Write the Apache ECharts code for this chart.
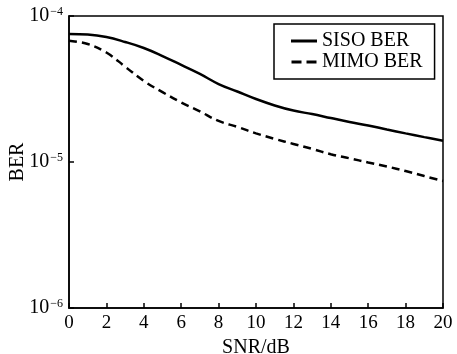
<!DOCTYPE html>
<html>
<head>
<meta charset="utf-8">
<script src="https://cdn.jsdelivr.net/npm/echarts@6/dist/echarts.min.js"></script>
<style>
  html, body { margin: 0; padding: 0; background: #fff; }
  #chart { width: 457px; height: 354px; }
</style>
</head>
<body>
<div id="chart"></div>
<script>
const snr = [0, 1, 2, 3, 4, 5, 6, 7, 8, 9, 10, 11, 12, 13, 14, 15, 16, 17, 18, 19, 20];
const sisoBer = [7.53e-5, 7.47e-5, 7.18e-5, 6.64e-5, 6.04e-5, 5.32e-5, 4.62e-5, 4.01e-5, 3.42e-5, 3.04e-5,
  2.70e-5, 2.44e-5, 2.25e-5, 2.13e-5, 2.00e-5, 1.88e-5, 1.78e-5, 1.67e-5, 1.57e-5, 1.48e-5, 1.40e-5];
const mimoBer = [6.78e-5, 6.43e-5, 5.62e-5, 4.50e-5, 3.59e-5, 3.01e-5, 2.56e-5, 2.22e-5, 1.91e-5, 1.74e-5,
  1.57e-5, 1.44e-5, 1.33e-5, 1.23e-5, 1.13e-5, 1.06e-5, 9.93e-6, 9.31e-6, 8.67e-6, 8.01e-6, 7.41e-6];
const seriesNames = ['SISO BER', 'MIMO BER'];

const font = 'Liberation Serif';
const chart = echarts.init(document.getElementById('chart'));

function pairs(ys) {
  return snr.map((x, i) => [x, ys[i]]);
}

// legend icons: a solid bar and a two-dash bar
const solidIcon = 'path://M0,0H26V3H0Z';
const dashIcon = 'path://M0,0H10V3H0Z M15,0H25V3H15Z';

chart.setOption({
  animation: false,
  backgroundColor: '#fff',
  textStyle: { fontFamily: font, color: '#000' },
  grid: {
    left: 69, right: 14, top: 16, bottom: 46,
    outerBoundsMode: 'none',
    containLabel: false,
    show: true, borderColor: '#000', borderWidth: 1.5
  },
  // y axis title placed by hand (axis name gets pushed against the edge)
  graphic: [{
    type: 'text',
    x: 18, y: 162,
    rotation: Math.PI / 2,
    style: {
      text: 'BER', fontFamily: font, fontSize: 20, fill: '#000',
      align: 'center', verticalAlign: 'middle'
    }
  }],
  legend: {
    data: [
      { name: seriesNames[0], icon: solidIcon },
      { name: seriesNames[1], icon: dashIcon }
    ],
    orient: 'vertical',
    left: 274,
    top: 24,
    padding: [7, 12, 7, 17],
    itemGap: 1,
    itemWidth: 26,
    itemHeight: 3,
    borderColor: '#000',
    borderWidth: 1.5,
    itemStyle: { color: '#000', borderWidth: 0 },
    lineStyle: { width: 0 },
    textStyle: { fontFamily: font, fontSize: 20, color: '#000', lineHeight: 20 }
  },
  xAxis: {
    type: 'value',
    min: 0, max: 20, interval: 2,
    name: 'SNR/dB',
    nameLocation: 'middle',
    nameGap: 29,
    nameTextStyle: { fontFamily: font, fontSize: 20, color: '#000' },
    axisLine: { lineStyle: { color: '#000', width: 1.5 } },
    axisTick: { inside: true, length: 5, lineStyle: { color: '#000', width: 1.5 } },
    axisLabel: { fontFamily: font, fontSize: 19, color: '#000', margin: 6 },
    splitLine: { show: false }
  },
  yAxis: {
    type: 'log',
    logBase: 10,
    min: 1e-6, max: 1e-4,
    axisLine: { lineStyle: { color: '#000', width: 1.5 } },
    axisTick: { inside: true, length: 5, lineStyle: { color: '#000', width: 1.5 } },
    minorTick: { show: false },
    splitLine: { show: false },
    axisLabel: {
      margin: 6,
      formatter: function (v) {
        const e = Math.round(Math.log10(v));
        return '{b|10}{s|\u2212' + Math.abs(e) + '}';
      },
      rich: {
        b: { fontFamily: font, fontSize: 20, color: '#000', verticalAlign: 'bottom' },
        s: { fontFamily: font, fontSize: 12, color: '#000', verticalAlign: 'top', padding: [0, 0, 8, 1] }
      }
    }
  },
  series: [
    {
      name: seriesNames[0],
      type: 'line',
      data: pairs(sisoBer),
      smooth: 0.4,
      symbol: 'none',
      lineStyle: { color: '#000', width: 2.5, type: 'solid' },
      itemStyle: { color: '#000' }
    },
    {
      name: seriesNames[1],
      type: 'line',
      data: pairs(mimoBer),
      smooth: 0.4,
      symbol: 'none',
      lineStyle: { color: '#000', width: 2.5, type: [8, 5] },
      itemStyle: { color: '#000' }
    }
  ]
});
</script>
</body>
</html>
